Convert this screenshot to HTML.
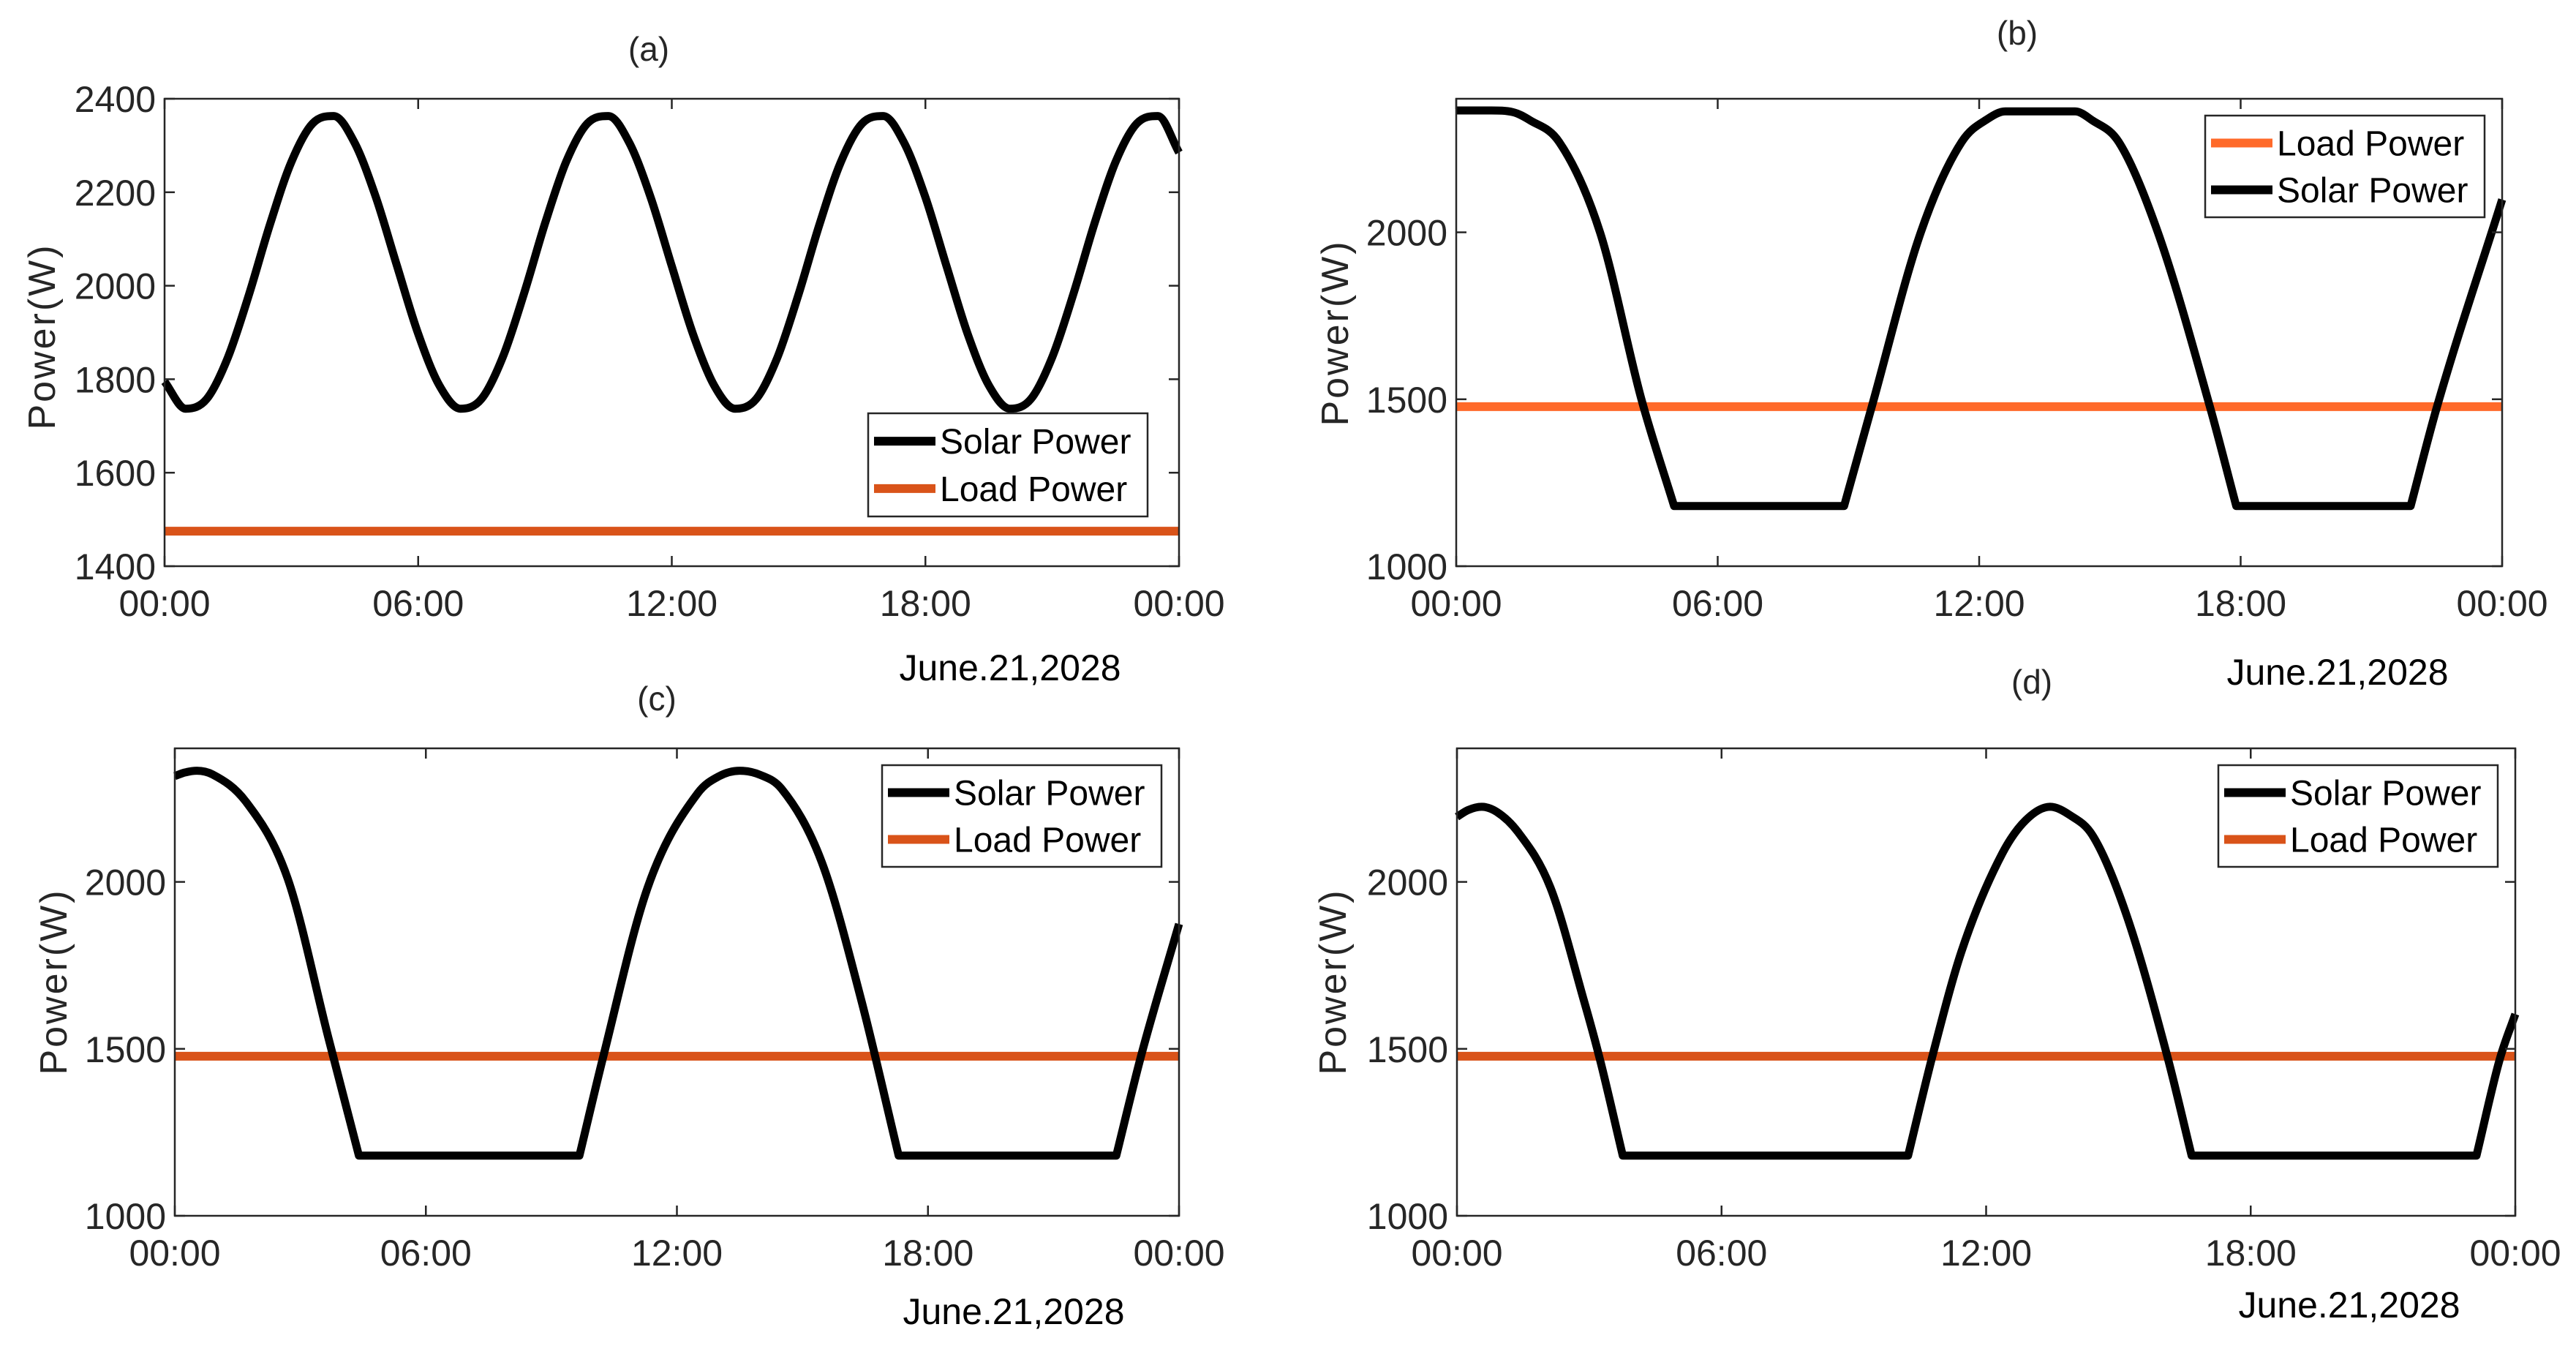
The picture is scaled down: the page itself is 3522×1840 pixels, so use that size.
<!DOCTYPE html>
<html><head><meta charset="utf-8"><style>
html,body{margin:0;padding:0;background:#fff;}
svg{display:block;font-family:"Liberation Sans",Arial,sans-serif;}
</style></head><body>
<svg id="fig" width="3522" height="1840" viewBox="0 0 3522 1840" xmlns="http://www.w3.org/2000/svg"></svg>
<script>
// ---- data ----
const xTickLabels = ["00:00","06:00","12:00","18:00","00:00"];
const yTicksA = [1400,1600,1800,2000,2200,2400];
const yTicksBCD = [1000,1500,2000];
const aHours = [0,0.5,1,1.5,2,2.5,3,3.5,4,4.5,5,5.5,6,6.5,7,7.5,8,8.5,9,9.5,10,10.5,11,11.5,12,12.5,13,13.5,14,14.5,15,15.5,16,16.5,17,17.5,18,18.5,19,19.5,20,20.5,21,21.5,22,22.5,23,23.5,24];
const aSolar = [1795,1737,1758,1847,1982,2133,2265,2347,2363,2305,2189,2042,1897,1787,1737,1758,1847,1982,2133,2265,2347,2363,2305,2189,2042,1897,1787,1737,1758,1847,1982,2133,2265,2347,2363,2305,2189,2042,1897,1787,1737,1758,1847,1982,2133,2265,2347,2363,2285];
const aLoad = 1475;
const bHours = [0,0.8,1.3,1.7,2.36,3.3,4.25,5.0,8.9,9.53,10.66,11.6,12.2,12.6,14.2,14.6,15.2,16.1,17.3,17.9,21.9,22.5,24];
const bSolar = [2365,2365,2360,2335,2271,2000,1500,1180,1180,1475,2000,2271,2340,2362,2362,2335,2271,2000,1475,1180,1180,1475,2098];
const bLoad = 1478;
const cHours = [0,0.25,0.53,0.9,1.7,2.7,3.67,4.4,9.67,10.25,11.3,12.5,13.0,13.5,14.0,14.5,15.46,16.4,17.3,22.5,23.1,24];
const cSolar = [2317,2328,2333,2322,2240,2009,1533,1180,1180,1482,1983,2266,2316,2333,2320,2279,2060,1649,1180,1180,1482,1874];
const cLoad = 1478;
const dHours = [0,0.25,0.56,0.9,1.38,2.12,2.87,3.24,3.76,10.23,10.79,11.44,12.37,12.9,13.45,13.9,14.42,15.17,16.1,16.66,23.12,23.65,24];
const dSolar = [2195,2215,2225,2210,2150,1983,1649,1470,1180,1180,1482,1791,2086,2185,2225,2200,2138,1906,1482,1180,1180,1470,1604];
const dLoad = 1478;

const NS="http://www.w3.org/2000/svg";
const svg=document.getElementById('fig');
function mk(tag,attrs,parent){const e=document.createElementNS(NS,tag);for(const k in attrs)e.setAttribute(k,attrs[k]);(parent||svg).appendChild(e);return e;}

// monotone cubic path with sharp corners at the floor
function monoPath(X,Y){
 const n=X.length;const d=[],m=new Array(n);
 const floorY=Math.max(...Y);
 const isFloor=i=>i>=0&&i<n-1&&d[i]===0&&Y[i]===floorY;
 for(let i=0;i<n-1;i++)d.push((Y[i+1]-Y[i])/(X[i+1]-X[i]));
 m[0]=d[0];m[n-1]=d[n-2];
 for(let i=1;i<n-1;i++){m[i]=(d[i-1]*d[i]<=0)?0:(d[i-1]+d[i])/2;}
 for(let i=0;i<n-1;i++){
  if(d[i]===0){m[i]=0;m[i+1]=0;continue;}
  const a=m[i]/d[i],b=m[i+1]/d[i],s=a*a+b*b;
  if(s>9){const t=3/Math.sqrt(s);m[i]=t*a*d[i];m[i+1]=t*b*d[i];}
 }
 let p='M'+X[0].toFixed(1)+','+Y[0].toFixed(1);
 for(let i=0;i<n-1;i++){
  const h=(X[i+1]-X[i])/3;
  let t0=m[i],t1=m[i+1];
  if(isFloor(i-1))t0=d[i];
  if(isFloor(i+1))t1=d[i];
  p+=' C'+(X[i]+h).toFixed(1)+','+(Y[i]+t0*h).toFixed(1)+' '+(X[i+1]-h).toFixed(1)+','+(Y[i+1]-t1*h).toFixed(1)+' '+X[i+1].toFixed(1)+','+Y[i+1].toFixed(1);
 }
 return p;
}

const panels=[
 {id:'a',L:225,R:1612,T:135,B:774,ymin:1400,ymax:2400,yt:yTicksA,hrs:aHours,sol:aSolar,load:aLoad,loadColor:'#d95319',
  title:[887,67],ytitle:[58,460],date:[1381,912],leg:[1187,565,382,141],order:['solar','load']},
 {id:'b',L:1991,R:3421,T:135,B:774,ymin:1000,ymax:2400,yt:yTicksBCD,hrs:bHours,sol:bSolar,load:bLoad,loadColor:'#ff6a2a',
  title:[2758,45],ytitle:[1826,455],date:[3196,918],leg:[3015,158,382,139],order:['load','solar']},
 {id:'c',L:239,R:1612,T:1023,B:1662,ymin:1000,ymax:2400,yt:yTicksBCD,hrs:cHours,sol:cSolar,load:cLoad,loadColor:'#d95319',
  title:[898,955],ytitle:[74,1342],date:[1386,1792],leg:[1206,1046,382,139],order:['solar','load']},
 {id:'d',L:1992,R:3439,T:1023,B:1662,ymin:1000,ymax:2400,yt:yTicksBCD,hrs:dHours,sol:dSolar,load:dLoad,loadColor:'#d95319',
  title:[2778,932],ytitle:[1823,1342],date:[3212,1783],leg:[3033,1046,382,139],order:['solar','load']}
];

panels.forEach(p=>{
 const g=mk('g',{});
 
 
 const xs=h=>p.L+(h/24)*(p.R-p.L);
 const ys=v=>p.B-(v-p.ymin)/(p.ymax-p.ymin)*(p.B-p.T);
 const ll=mk('line',{x1:p.L,x2:p.R,y1:ys(p.load),y2:ys(p.load),stroke:p.loadColor,'stroke-width':12},g);
 
 
 const X=p.hrs.map(xs),Y=p.sol.map(ys);
 const sl=mk('path',{d:monoPath(X,Y),fill:'none',stroke:'#000','stroke-width':11,'stroke-linejoin':'round','stroke-linecap':'butt'},g);
 
 
 const bx=mk('rect',{x:p.L,y:p.T,width:p.R-p.L,height:p.B-p.T,fill:'none',stroke:'#262626','stroke-width':2.5},g);
 
 
 xTickLabels.forEach((lab,i)=>{
  const x=xs(i*6);
  mk('line',{x1:x,x2:x,y1:p.B,y2:p.B-14,stroke:'#262626','stroke-width':2.5},g);
  mk('line',{x1:x,x2:x,y1:p.T,y2:p.T+14,stroke:'#262626','stroke-width':2.5},g);
  const t=mk('text',{x:x,y:p.B+68,'font-size':50,'text-anchor':'middle',fill:'#262626'},g);
  t.textContent=lab;
  
  
 });
 p.yt.forEach(v=>{
  const y=ys(v);
  mk('line',{x1:p.L,x2:p.L+14,y1:y,y2:y,stroke:'#262626','stroke-width':2.5},g);
  mk('line',{x1:p.R,x2:p.R-14,y1:y,y2:y,stroke:'#262626','stroke-width':2.5},g);
  const t=mk('text',{x:p.L-12,y:y+18,'font-size':50,'text-anchor':'end',fill:'#262626'},g);
  t.textContent=v;
  
  
 });
 const tt=mk('text',{x:p.title[0],y:p.title[1]+16,'font-size':46,'text-anchor':'middle',fill:'#262626'},g);
 tt.textContent='('+p.id+')';
 
 
 const yt=mk('text',{x:0,y:0,'font-size':52,'text-anchor':'middle',fill:'#262626','letter-spacing':3,transform:`translate(${p.ytitle[0]+17},${p.ytitle[1]}) rotate(-90)`},g);
 yt.textContent='Power(W)';
 
 
 const dt=mk('text',{x:p.date[0],y:p.date[1]+18,'font-size':50,'text-anchor':'middle',fill:'#000'},g);
 dt.textContent='June.21,2028';
 
 
 const [lx,ly,lw,lh]=p.leg;
 const lg=mk('g',{},g);
 
 
 mk('rect',{x:lx,y:ly,width:lw,height:lh,fill:'#fff',stroke:'#262626','stroke-width':2.5},lg);
 p.order.forEach((k,i)=>{
  const cy=ly+lh*(i===0?0.27:0.73);
  const col=k==='solar'?'#000':p.loadColor;
  const e=mk('g',{},lg);
  
  
  mk('line',{x1:lx+8,x2:lx+92,y1:cy,y2:cy,stroke:col,'stroke-width':12},e);
  const t=mk('text',{x:lx+98,y:cy+17,'font-size':48,fill:'#000'},e);
  t.textContent=k==='solar'?'Solar Power':'Load Power';
 });
});
</script>
</body></html>
